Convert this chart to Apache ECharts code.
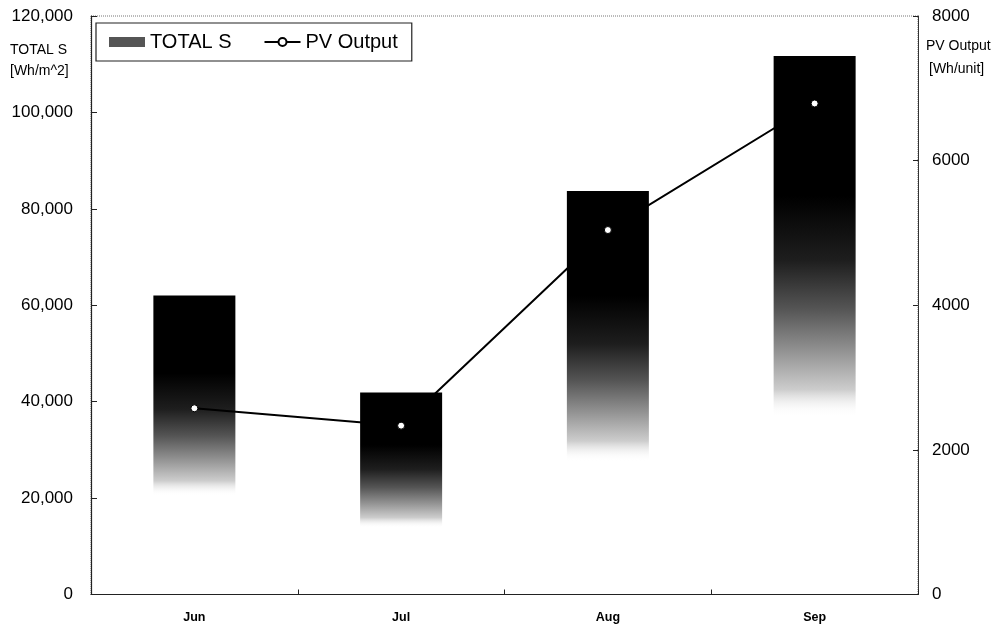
<!DOCTYPE html>
<html>
<head>
<meta charset="utf-8">
<style>
  html, body { margin: 0; padding: 0; background: #fff; }
  #chart { width: 1003px; height: 630px; }
</style>
<script src="https://cdn.jsdelivr.net/npm/echarts@6/dist/echarts.min.js"></script>
</head>
<body>
<div id="chart"></div>
<script>
// Monthly totals and PV output
const months = ['Jun', 'Jul', 'Aug', 'Sep'];
const totalS = [62000, 41900, 83700, 111700];      // Wh/m^2
const pvOutput = [2575, 2335, 5040, 6790];         // Wh/unit
const leftTicks = [0, 20000, 40000, 60000, 80000, 100000, 120000];
const rightTicks = [0, 2000, 4000, 6000, 8000];

const FONT = '"Liberation Sans", Arial, sans-serif';
const chart = echarts.init(document.getElementById('chart'), null, { renderer: 'canvas' });

// Dark top fading into light grey, then nothing, toward the baseline
const barFill = new echarts.graphic.LinearGradient(0, 0, 0, 1, [
  { offset: 0.00, color: '#000000' },
  { offset: 0.26, color: '#000000' },
  { offset: 0.38, color: '#1e1e1e' },
  { offset: 0.47, color: '#555555' },
  { offset: 0.55, color: '#949494' },
  { offset: 0.62, color: '#cdcdcd' },
  { offset: 0.67, color: 'rgba(255,255,255,0)' },
  { offset: 1.00, color: 'rgba(255,255,255,0)' }
]);

chart.setOption({
  animation: false,
  backgroundColor: '#ffffff',
  grid: {
    left: 91, right: 85, top: 16, bottom: 35.5,
    show: true, borderColor: '#777', borderWidth: 1, borderType: 'dotted'
  },
  legend: {
    left: 96, top: 23, width: 310,
    padding: [9, 14, 9, 13],
    borderColor: '#222', borderWidth: 1.2,
    backgroundColor: '#fff',
    itemGap: 32, itemWidth: 36, itemHeight: 10,
    textStyle: { fontFamily: FONT, fontSize: 20, color: '#000' },
    data: [
      { name: 'TOTAL S', icon: 'rect', itemStyle: { color: '#555' } },
      { name: 'PV Output' }
    ]
  },
  xAxis: {
    type: 'category',
    data: months,
    axisLine: { lineStyle: { color: '#222', width: 1.2 } },
    axisTick: { show: true, inside: true, length: 5, alignWithLabel: false, lineStyle: { color: '#222' } },
    axisLabel: { fontFamily: FONT, fontSize: 12.5, fontWeight: 'bold', color: '#000', margin: 17 },
    splitLine: { show: false }
  },
  yAxis: [
    {
      type: 'value', min: 0, max: 120000, interval: 20000,
      axisLine: { show: true, lineStyle: { color: '#222', width: 1.2 } },
      axisTick: { show: true, inside: true, length: 6, lineStyle: { color: '#222' } },
      axisLabel: {
        fontFamily: FONT, fontSize: 17, color: '#000', margin: 18,
        formatter: v => leftTicks.includes(v) ? v.toLocaleString('en-US') : ''
      },
      splitLine: { show: false }
    },
    {
      type: 'value', min: 0, max: 8000, interval: 2000,
      axisLine: { show: true, lineStyle: { color: '#333', width: 1 } },
      axisTick: { show: true, inside: true, length: 5, lineStyle: { color: '#222' } },
      axisLabel: {
        fontFamily: FONT, fontSize: 17, color: '#000', margin: 14,
        formatter: v => rightTicks.includes(v) ? String(v) : ''
      },
      splitLine: { show: false }
    }
  ],
  graphic: [
    { type: 'text', left: 10, top: 43, style: { text: 'TOTAL S', font: '14px ' + FONT, fill: '#000' } },
    { type: 'text', left: 10, top: 64, style: { text: '[Wh/m^2]', font: '14px ' + FONT, fill: '#000' } },
    { type: 'text', left: 926, top: 39, style: { text: 'PV Output', font: '14px ' + FONT, fill: '#000' } },
    { type: 'text', left: 929, top: 62, style: { text: '[Wh/unit]', font: '14px ' + FONT, fill: '#000' } }
  ],
  series: [
    {
      name: 'TOTAL S',
      type: 'bar',
      yAxisIndex: 0,
      data: totalS,
      barWidth: 82,
      itemStyle: { color: barFill }
    },
    {
      name: 'PV Output',
      type: 'line',
      yAxisIndex: 1,
      data: pvOutput,
      z: 3,
      symbol: 'circle',
      symbolSize: 7,
      lineStyle: { color: '#000', width: 2 },
      itemStyle: { color: '#fff', borderColor: '#000', borderWidth: 1 }
    }
  ]
});
</script>
</body>
</html>
